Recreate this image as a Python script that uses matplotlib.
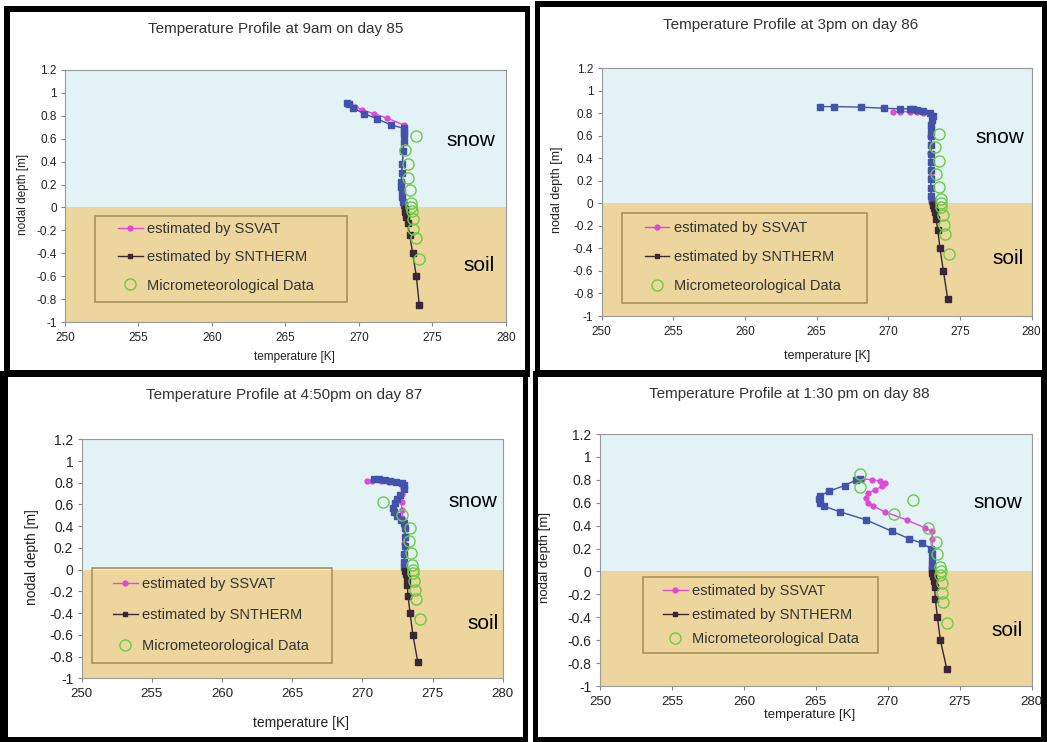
import numpy as np
import matplotlib
matplotlib.use('Agg')
import matplotlib.pyplot as plt
from matplotlib.patches import Rectangle
from matplotlib.lines import Line2D
from matplotlib.ticker import FuncFormatter, MultipleLocator

plt.rcParams['font.family'] = ['Liberation Sans', 'DejaVu Sans']
plt.rcParams['axes.unicode_minus'] = False

W, H = 1047, 742

titles = ['Temperature Profile at 9am on day 85',
          'Temperature Profile at 3pm on day 86',
          'Temperature Profile at 4:50pm on day 87',
          'Temperature Profile at 1:30 pm on day 88']
legend_labels = ['estimated by SSVAT', 'estimated by SNTHERM', 'Micrometeorological Data']

# soil nodes of SNTHERM (same depths in all panels)
soil_d = [-0.01, -0.04, -0.08, -0.14, -0.24, -0.40, -0.60, -0.85]
# sensor depths of micrometeorological data
obs_d = [0.62, 0.50, 0.38, 0.26, 0.15, 0.04, 0.0, -0.03, -0.10, -0.19, -0.27, -0.45]

# ---- day 85, 9am
p1_ssvat_t = [269.4, 269.7, 270.2, 271.0, 271.9, 273.05, 273.05, 273.05, 273.0, 272.95, 272.9, 272.9, 272.92, 273.0, 273.05]
p1_ssvat_d = [0.90, 0.88, 0.85, 0.82, 0.78, 0.72, 0.66, 0.57, 0.49, 0.38, 0.30, 0.22, 0.14, 0.05, 0.02]
p1_snow_t = [269.2, 269.3, 269.6, 270.35, 271.2, 272.2, 273.05, 273.05, 273.05, 273.05, 273.0, 272.95,
             272.9, 272.88, 272.88, 272.9, 272.95, 273.0, 273.05]
p1_snow_d = [0.91, 0.90, 0.865, 0.82, 0.775, 0.72, 0.69, 0.66, 0.63, 0.57, 0.49, 0.38,
             0.30, 0.22, 0.18, 0.14, 0.09, 0.05, 0.02]
p1_soil_t = [273.1, 273.15, 273.2, 273.3, 273.45, 273.65, 273.9, 274.1]
p1_obs_t = [273.9, 273.15, 273.35, 273.3, 273.45, 273.55, 273.55, 273.6, 273.65, 273.7, 273.85, 274.1]

# ---- day 86, 3pm
p2_ssvat_t = [270.35, 270.8, 271.5, 272.0, 272.45, 272.9, 272.95, 272.9, 272.92, 272.95, 273.0]
p2_ssvat_d = [0.815, 0.815, 0.815, 0.81, 0.805, 0.795, 0.70, 0.60, 0.45, 0.25, 0.02]
p2_snow_t = [265.2, 266.2, 268.1, 269.7, 270.8, 271.5, 271.75, 272.0, 272.4, 272.9, 273.1, 273.05,
             273.0, 273.0, 273.0, 273.0, 272.98, 272.95, 272.95, 272.95, 272.97, 273.0, 273.05]
p2_snow_d = [0.86, 0.86, 0.855, 0.845, 0.84, 0.84, 0.835, 0.83, 0.82, 0.805, 0.78, 0.74,
             0.70, 0.65, 0.60, 0.52, 0.44, 0.37, 0.30, 0.22, 0.14, 0.07, 0.02]
p2_soil_t = [273.14, 273.19, 273.26, 273.33, 273.45, 273.6, 273.84, 274.14]
p2_obs_t = [273.55, 273.25, 273.5, 273.35, 273.5, 273.7, 273.65, 273.7, 273.8, 273.85, 273.95, 274.2]

# ---- day 87, 4:50pm
p3_ssvat_t = [270.3, 270.7, 271.3, 271.9, 272.4, 272.8, 272.9, 272.85, 272.8, 272.8, 272.85, 272.95, 273.0, 273.0]
p3_ssvat_d = [0.82, 0.82, 0.815, 0.81, 0.805, 0.79, 0.75, 0.70, 0.62, 0.55, 0.48, 0.40, 0.25, 0.02]
p3_snow_t = [270.8, 271.2, 271.6, 272.0, 272.4, 272.85, 273.0, 273.0, 272.7, 272.45, 272.3, 272.2,
             272.25, 272.45, 272.75, 273.0, 273.05, 273.05, 273.05, 273.0, 273.0, 273.0]
p3_snow_d = [0.83, 0.83, 0.825, 0.82, 0.81, 0.80, 0.78, 0.74, 0.69, 0.65, 0.61, 0.57,
             0.53, 0.49, 0.46, 0.43, 0.38, 0.30, 0.22, 0.14, 0.07, 0.02]
p3_soil_t = [273.05, 273.1, 273.15, 273.2, 273.25, 273.4, 273.6, 273.95]
p3_obs_t = [271.45, 272.8, 273.4, 273.35, 273.45, 273.55, 273.6, 273.6, 273.65, 273.75, 273.85, 274.1]

# ---- day 88, 1:30pm
p4_ssvat_t = [268.2, 268.9, 269.45, 269.8, 269.6, 269.1, 268.65, 268.5, 268.65, 269.0, 269.8, 271.3,
              272.6, 273.05, 273.1, 273.1, 273.1, 273.1]
p4_ssvat_d = [0.81, 0.80, 0.79, 0.77, 0.745, 0.71, 0.685, 0.64, 0.60, 0.57, 0.52, 0.45,
              0.38, 0.35, 0.28, 0.20, 0.10, 0.02]
p4_snow_t = [268.1, 267.8, 267.0, 265.9, 265.3, 265.25, 265.3, 265.55, 266.7, 268.5, 270.3, 271.5,
             272.4, 273.0, 273.05, 273.05, 273.05, 273.05, 273.05]
p4_snow_d = [0.81, 0.80, 0.75, 0.70, 0.66, 0.63, 0.60, 0.57, 0.52, 0.45, 0.35, 0.285,
             0.245, 0.20, 0.15, 0.10, 0.06, 0.03, 0.01]
p4_soil_t = [273.1, 273.15, 273.2, 273.25, 273.3, 273.45, 273.65, 274.1]
p4_obs_t = [268.05, 268.1, 271.75, 270.4, 272.8, 273.35, 273.45, 273.6, 273.7, 273.65, 273.75, 273.8, 273.85, 274.1]
p4_obs_d = [0.85, 0.74, 0.62, 0.50, 0.38, 0.26, 0.15, 0.04, 0.0, -0.03, -0.10, -0.19, -0.27, -0.45]

SNOW_BG = '#E3F2F4'
SOIL_BG = '#ECD69D'
PINK = '#E048D8'
BLUE = '#4452AA'
DARK = '#3A2636'
GREEN = '#6CCB45'

fig = plt.figure(figsize=(W / 100, H / 100), dpi=100)


def px_rect(l, r, t, b):
    return [l / W, 1 - b / H, (r - l) / W, (b - t) / H]


# black frames around the four panels (outer box, inner white box) in pixels
frames = [((4, 530, 6, 377), (10, 525, 12, 370)),
          ((535, 1047, 1, 376), (540, 1042, 7, 370)),
          ((0, 528, 371, 742), (8, 523, 377, 737)),
          ((533, 1047, 371, 742), (538, 1041, 377, 737))]
for outer, inner in frames:
    for box, col in ((outer, 'black'), (inner, 'white')):
        l, b, w, h = px_rect(*box)
        fig.add_artist(Rectangle((l, b), w, h, transform=fig.transFigure,
                                 facecolor=col, edgecolor='none', zorder=-10))

panels = [
    dict(rect=(65, 506, 70, 322), title=(276, 29), xl=(294, 357), yl=(23, 194),
         tsz=8.5, ytsz=8.5, lsz=8.5, snow=(0.92, 0.72), soil=(0.94, 0.226),
         box=(0.068, 0.079, 0.639, 0.42), leg=(0.12, 0.398), ls=0.99,
         ssvat=(p1_ssvat_t, p1_ssvat_d), snow_pts=(p1_snow_t, p1_snow_d),
         soil_pts=(p1_soil_t, soil_d), obs=(p1_obs_t, obs_d)),
    dict(rect=(601.7, 1031.7, 68.3, 316), title=(791, 25), xl=(827, 356), yl=(557, 190),
         tsz=8.5, ytsz=8.5, lsz=9, snow=(0.926, 0.72), soil=(0.945, 0.234),
         box=(0.0465, 0.051, 0.616, 0.415), leg=(0.10, 0.384), ls=1.03,
         ssvat=(p2_ssvat_t, p2_ssvat_d), snow_pts=(p2_snow_t, p2_snow_d),
         soil_pts=(p2_soil_t, soil_d), obs=(p2_obs_t, obs_d)),
    dict(rect=(81.7, 502.7, 439.3, 678.3), title=(284, 395), xl=(301, 723), yl=(32, 557),
         tsz=9.5, ytsz=10, lsz=10, snow=(0.93, 0.739), soil=(0.953, 0.231),
         box=(0.024, 0.065, 0.594, 0.46), leg=(0.074, 0.425), ls=1.17,
         ssvat=(p3_ssvat_t, p3_ssvat_d), snow_pts=(p3_snow_t, p3_snow_d),
         soil_pts=(p3_soil_t, soil_d), obs=(p3_obs_t, obs_d)),
    dict(rect=(600, 1031.7, 434, 686), title=(789, 394), xl=(810, 715), yl=(545, 557),
         tsz=9.5, ytsz=10, lsz=9.5, snow=(0.922, 0.727), soil=(0.943, 0.222),
         box=(0.10, 0.132, 0.645, 0.431), leg=(0.146, 0.405), ls=0.7,
         ssvat=(p4_ssvat_t, p4_ssvat_d), snow_pts=(p4_snow_t, p4_snow_d),
         soil_pts=(p4_soil_t, soil_d), obs=(p4_obs_t, p4_obs_d)),
]

for title, p in zip(titles, panels):
    ax = fig.add_axes(px_rect(*p['rect']))
    ax.set_xlim(250, 280)
    ax.set_ylim(-1, 1.2)
    ax.axhspan(0, 1.2, color=SNOW_BG, zorder=0, lw=0)
    ax.axhspan(-1, 0, color=SOIL_BG, zorder=0, lw=0)

    st, sd = p['snow_pts']
    gt, gd = p['soil_pts']
    at, ad = p['ssvat']
    ot, od = p['obs']

    ax.plot(at, ad, color=PINK, marker='o', ms=3.5, lw=1, zorder=3)
    ax.plot([st[-1], gt[0]], [sd[-1], gd[0]], color=DARK, lw=1, zorder=4)
    ax.plot(st, sd, color=BLUE, marker='s', ms=4, lw=1, zorder=4)
    ax.plot(gt, gd, color=DARK, marker='s', ms=4, lw=1, zorder=4)
    ax.plot(ot, od, ls='none', marker='o', ms=8, mfc='none', mec=GREEN, mew=1, zorder=5)

    x0, y0, x1, y1 = p['box']
    ax.add_patch(Rectangle((x0, y0), x1 - x0, y1 - y0, transform=ax.transAxes,
                           facecolor='none', edgecolor='#A8915A', lw=1.2, zorder=2))
    handles = [Line2D([], [], color=PINK, marker='o', ms=3.5, lw=1),
               Line2D([], [], color=DARK, marker='s', ms=3.5, lw=1),
               Line2D([], [], ls='none', marker='o', ms=8, mfc='none', mec=GREEN, mew=1)]
    leg = ax.legend(handles, legend_labels, loc='upper left', bbox_to_anchor=p['leg'],
                    frameon=False, borderpad=0, borderaxespad=0, handlelength=1.7,
                    handletextpad=0.3, labelspacing=p['ls'], fontsize=10.5)
    for t in leg.get_texts():
        t.set_color('#333333')

    ax.text(*p['snow'], 'snow', transform=ax.transAxes, fontsize=15, ha='center', va='center', zorder=6)
    ax.text(*p['soil'], 'soil', transform=ax.transAxes, fontsize=15, ha='center', va='center', zorder=6)

    ax.xaxis.set_major_locator(MultipleLocator(5))
    ax.yaxis.set_major_locator(MultipleLocator(0.2))
    ax.yaxis.set_major_formatter(FuncFormatter(lambda v, pos: '%g' % round(v, 1)))
    ax.tick_params(axis='both', direction='out', length=3, width=0.8, color='#888888', labelcolor='#222222')
    ax.tick_params(axis='x', labelsize=p['tsz'], pad=4)
    ax.tick_params(axis='y', labelsize=p['ytsz'], pad=3)
    for s in ax.spines.values():
        s.set_color('#999999')
        s.set_linewidth(0.8)

    fig.text(p['title'][0] / W, 1 - p['title'][1] / H, title, fontsize=11, color='#333333',
             ha='center', va='center')
    fig.text(p['xl'][0] / W, 1 - p['xl'][1] / H, 'temperature [K]', fontsize=p['lsz'],
             color='#222222', ha='center', va='center')
    fig.text(p['yl'][0] / W, 1 - p['yl'][1] / H, 'nodal depth [m]', fontsize=p['lsz'],
             color='#222222', ha='center', va='center', rotation=90)

fig.savefig('out.png', dpi=100)
